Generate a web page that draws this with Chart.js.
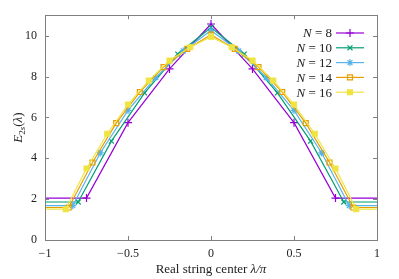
<!DOCTYPE html>
<html>
<head>
<meta charset="utf-8">
<script src="https://cdn.jsdelivr.net/npm/chart.js@4.4.1/dist/chart.umd.min.js"></script>
<style>
  html, body { margin: 0; padding: 0; background: #fff; }
  #wrap { width: 399px; height: 279px; }
</style>
</head>
<body>
<div id="wrap"><canvas id="c"></canvas></div>
<script>
// values
const lambda8 = [-1, -0.75, -0.5, -0.25, 0, 0.25, 0.5, 0.75, 1];
const energy8 = [2.05, 2.05, 5.74, 8.37, 10.57, 8.37, 5.74, 2.05, 2.05];

const lambda10 = [-1, -0.8, -0.6, -0.4, -0.2, 0, 0.2, 0.4, 0.6, 0.8, 1];
const energy10 = [1.86, 1.86, 4.84, 7.2, 9.1, 10.4, 9.1, 7.2, 4.84, 1.86, 1.86];

const lambda12 = [-1, -0.833, -0.667, -0.5, -0.333, -0.167, 0, 0.167, 0.333, 0.5, 0.667, 0.833, 1];
const energy12 = [1.68, 1.68, 4.26, 6.34, 7.95, 9.25, 10.25, 9.25, 7.95, 6.34, 4.26, 1.68, 1.68];

const lambda14 = [-1, -0.857, -0.714, -0.571, -0.429, -0.286, -0.143, 0, 0.143, 0.286, 0.429, 0.571, 0.714, 0.857, 1];
const energy14 = [1.59, 1.59, 3.79, 5.72, 7.24, 8.46, 9.35, 10.05, 9.35, 8.46, 7.24, 5.72, 3.79, 1.59, 1.59];

const lambda16 = [-1, -0.875, -0.75, -0.625, -0.5, -0.375, -0.25, -0.125, 0, 0.125, 0.25, 0.375, 0.5, 0.625, 0.75, 0.875, 1];
const energy16 = [1.51, 1.51, 3.5, 5.2, 6.63, 7.8, 8.78, 9.43, 9.95, 9.43, 8.78, 7.8, 6.63, 5.2, 3.5, 1.51, 1.51];

const seriesLabels = ['8', '10', '12', '14', '16'];
const xTicks = [-1, -0.5, 0, 0.5, 1];
const yTicks = [0, 2, 4, 6, 8, 10];

const serif = '"Liberation Serif", "DejaVu Serif", serif';
const borderGray = '#7f7f7f';

const toPoints = (xs, ys) => xs.map((x, i) => ({ x: x, y: ys[i] }));

// no marker on the points sitting on the frame at lambda = +-1
const hideEdge = (r) => (ctx) => {
  const p = ctx.raw;
  return p && Math.abs(p.x) === 1 ? 0 : r;
};

const makeSet = (label, xs, ys, color, style, fill, r, order) => ({
  label: label,
  data: toPoints(xs, ys),
  borderColor: color,
  backgroundColor: color,
  borderWidth: 1.2,
  tension: 0,
  pointStyle: style,
  markerSize: r,
  pointRadius: hideEdge(r),
  pointBorderColor: color,
  pointBackgroundColor: fill ? color : 'rgba(0,0,0,0)',
  pointBorderWidth: 1.2,
  order: order,
});

const datasets = [
  makeSet(seriesLabels[0], lambda8, energy8, '#9400d3', 'cross', false, 4, 5),
  makeSet(seriesLabels[1], lambda10, energy10, '#009e73', 'crossRot', false, 3.5, 4),
  makeSet(seriesLabels[2], lambda12, energy12, '#56b4e9', 'star', false, 3.5, 3),
  makeSet(seriesLabels[3], lambda14, energy14, '#e69f00', 'rect', false, 3.5, 2),
  makeSet(seriesLabels[4], lambda16, energy16, '#f0e442', 'rect', true, 3.5, 1),
];

// gnuplot-like frame, inward ticks, axis titles and key
const framePlugin = {
  id: 'frame',
  afterDraw(chart) {
    const { ctx, chartArea: a, scales } = chart;
    ctx.save();
    ctx.strokeStyle = borderGray;
    ctx.lineWidth = 1;
    const tl = 4;
    xTicks.forEach((v) => {
      const px = Math.round(scales.x.getPixelForValue(v)) + 0.5;
      ctx.beginPath();
      ctx.moveTo(px, a.bottom); ctx.lineTo(px, a.bottom - tl);
      ctx.moveTo(px, a.top); ctx.lineTo(px, a.top + tl);
      ctx.stroke();
    });
    yTicks.forEach((v) => {
      const py = Math.round(scales.y.getPixelForValue(v)) + 0.5;
      ctx.beginPath();
      ctx.moveTo(a.left, py); ctx.lineTo(a.left + tl, py);
      ctx.moveTo(a.right, py); ctx.lineTo(a.right - tl, py);
      ctx.stroke();
    });
    ctx.strokeRect(Math.round(a.left) + 0.5, Math.round(a.top) + 0.5,
      Math.round(a.right - a.left), Math.round(a.bottom - a.top));

    // x axis title
    ctx.fillStyle = '#222';
    ctx.textBaseline = 'alphabetic';
    const cx = (a.left + a.right) / 2;
    const ty = 273;
    ctx.font = '13px ' + serif;
    const t1 = 'Real string center ';
    const w1 = ctx.measureText(t1).width;
    ctx.font = 'italic 13px ' + serif;
    const t2 = 'λ/π';
    const w2 = ctx.measureText(t2).width;
    const x0 = cx - (w1 + w2) / 2;
    ctx.textAlign = 'left';
    ctx.font = '13px ' + serif;
    ctx.fillText(t1, x0, ty);
    ctx.font = 'italic 13px ' + serif;
    ctx.fillText(t2, x0 + w1, ty);

    // y axis title E_2s(lambda)
    ctx.save();
    ctx.translate(18, (a.top + a.bottom) / 2);
    ctx.rotate(-Math.PI / 2);
    const parts = [
      { t: 'E', f: 'italic 13px ' + serif, dy: 0 },
      { t: '2', f: '9px ' + serif, dy: 3 },
      { t: 's', f: 'italic 9px ' + serif, dy: 3 },
      { t: '(', f: '13px ' + serif, dy: 0 },
      { t: 'λ', f: 'italic 13px ' + serif, dy: 0 },
      { t: ')', f: '13px ' + serif, dy: 0 },
    ];
    let total = 0;
    parts.forEach((p) => { ctx.font = p.f; p.w = ctx.measureText(p.t).width; total += p.w; });
    let px = -total / 2;
    parts.forEach((p) => { ctx.font = p.f; ctx.fillText(p.t, px, 4 + p.dy); px += p.w; });
    ctx.restore();

    // key, top right inside the frame
    const rows = [33, 47.8, 62.6, 77.4, 92.2];
    datasets.forEach((ds, i) => {
      const y = rows[i];
      const textRight = 332;
      ctx.font = '13px ' + serif;
      ctx.textAlign = 'left';
      ctx.textBaseline = 'middle';
      const rest = ' = ' + ds.label;
      const wr = ctx.measureText(rest).width;
      ctx.fillStyle = '#222';
      ctx.fillText(rest, textRight - wr, y + 1);
      ctx.font = 'italic 13px ' + serif;
      const wn = ctx.measureText('N').width;
      ctx.fillText('N', textRight - wr - wn, y + 1);

      ctx.strokeStyle = ds.borderColor;
      ctx.lineWidth = 1.2;
      ctx.beginPath();
      ctx.moveTo(336, y); ctx.lineTo(364, y);
      ctx.stroke();
      ctx.fillStyle = ds.pointBackgroundColor;
      ctx.strokeStyle = ds.pointBorderColor;
      Chart.helpers.drawPoint(ctx, {
        pointStyle: ds.pointStyle,
        radius: ds.markerSize,
        borderWidth: 1.2,
        rotation: 0,
      }, 350, y);
    });
    ctx.restore();
  },
};

new Chart(document.getElementById('c'), {
  type: 'line',
  data: { datasets: datasets },
  options: {
    responsive: true,
    maintainAspectRatio: false,
    animation: false,
    layout: { padding: { top: 14, right: 22, left: 0, bottom: 0 } },
    plugins: {
      legend: { display: false },
      tooltip: { enabled: false },
    },
    scales: {
      x: {
        type: 'linear',
        min: -1,
        max: 1,
        grid: { display: false, drawTicks: false },
        border: { display: false },
        afterFit: (s) => { s.height = 39; },
        afterBuildTicks: (s) => { s.ticks = xTicks.map((v) => ({ value: v })); },
        ticks: {
          padding: 7,
          color: '#222',
          font: { family: serif, size: 12 },
          callback: (v) => String(v).replace('-', '\u2212'),
        },
      },
      y: {
        type: 'linear',
        min: 0,
        max: 11,
        grid: { display: false, drawTicks: false },
        border: { display: false },
        afterFit: (s) => { s.width = 45; },
        afterBuildTicks: (s) => { s.ticks = yTicks.map((v) => ({ value: v })); },
        ticks: {
          padding: 8,
          color: '#222',
          font: { family: serif, size: 12 },
        },
      },
    },
  },
  plugins: [framePlugin],
});
</script>
</body>
</html>
